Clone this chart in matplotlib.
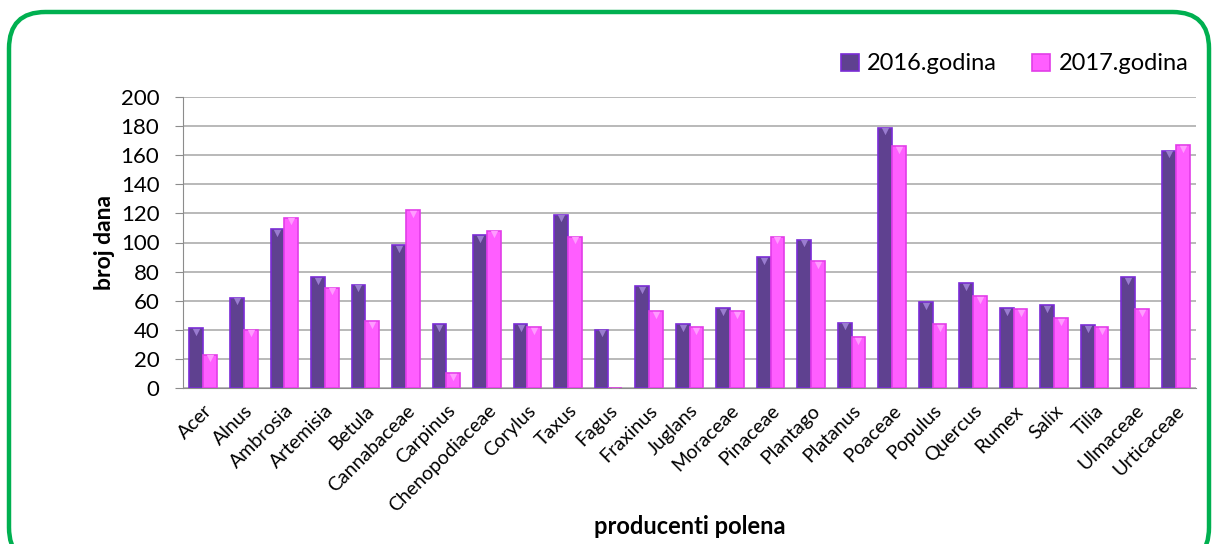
import matplotlib
matplotlib.use("Agg")
import matplotlib.pyplot as plt
import numpy as np
from matplotlib.patches import FancyBboxPatch

categories = ["Acer", "Alnus", "Ambrosia", "Artemisia", "Betula", "Cannabaceae", "Carpinus",
              "Chenopodiaceae", "Corylus", "Taxus", "Fagus", "Fraxinus", "Juglans", "Moraceae",
              "Pinaceae", "Plantago", "Platanus", "Poaceae", "Populus", "Quercus", "Rumex",
              "Salix", "Tilia", "Ulmaceae", "Urticaceae"]
y2016 = [41, 62, 109, 76, 71, 98, 44, 105, 44, 119, 40, 70, 44, 55, 90, 102, 45, 179, 59, 72, 55, 57, 43, 76, 163]
y2017 = [23, 40, 117, 69, 46, 122, 10, 108, 42, 104, 0, 53, 42, 53, 104, 87, 35, 166, 44, 63, 54, 48, 42, 54, 167]
yticks = [0, 20, 40, 60, 80, 100, 120, 140, 160, 180, 200]
series_names = ["2016.godina", "2017.godina"]

plt.rcParams['font.family'] = ['Lato', 'DejaVu Sans']

W, H = 1215, 544
fig = plt.figure(figsize=(W / 100, H / 100), dpi=100)
fig.patch.set_facecolor("white")

# green rounded border
border = FancyBboxPatch((9 / W, -20 / H), (1200 / W), (532 / H + 20 / H),
                        boxstyle="round,pad=0,rounding_size=0.03",
                        transform=fig.transFigure, fill=False,
                        edgecolor="#00B050", linewidth=3.2, mutation_aspect=W / H)
fig.patches.append(border)

ax = fig.add_axes([183 / W, 1 - 388 / H, (1196 - 183) / W, (388 - 97) / H])
x = np.arange(len(categories))
bw = 0.34
c16, e16 = "#5F4190", "#7A2BD6"
c17, e17 = "#FF5EFF", "#E23DE8"
b1 = ax.bar(x - bw / 2, y2016, bw, color=c16, edgecolor=e16, linewidth=1.2, label=series_names[0], zorder=3)
b2 = ax.bar(x + bw / 2, y2017, bw, color=c17, edgecolor=e17, linewidth=1.2, label=series_names[1], zorder=3)
# small top bevel triangles
ax.scatter(x - bw / 2, np.array(y2016) - 2.5, marker="v", s=28, color="#9A7CD0", zorder=4, linewidths=0)
ax.scatter(x + bw / 2, np.array(y2017) - 2.5, marker="v", s=28, color="#FF9CFF", zorder=4, linewidths=0)

ax.set_xlim(-0.5, len(categories) - 0.5)
ax.set_ylim(0, 200)
ax.set_yticks(yticks)
ax.set_yticklabels([str(v) for v in yticks], fontsize=16)
ax.set_xticks(x)
ax.set_xticklabels(categories, rotation=45, ha="right", rotation_mode="anchor", fontsize=14)
ax.tick_params(axis="x", length=0, pad=10)
ax.tick_params(axis="y", length=6, color="#8C8C8C", pad=11, direction="out")
ax.yaxis.grid(True, color="#A6A6A6", linewidth=1.1, zorder=0)
ax.set_axisbelow(True)
for s in ["top", "right"]:
    ax.spines[s].set_visible(False)
ax.spines["left"].set_color("#8C8C8C")
ax.spines["bottom"].set_color("#8C8C8C")

ax.set_ylabel("broj dana", fontsize=16.5, fontweight="bold", labelpad=4)
fig.text(690 / W, 1 - 527 / H, "producenti polena", ha="center", va="center",
         fontsize=17, fontweight="bold")

leg = fig.legend(handles=[b1, b2], labels=series_names, loc="center right",
                 bbox_to_anchor=(1200 / W, 1 - 64 / H), frameon=False, fontsize=17,
                 ncol=2, handlelength=0.75, handleheight=0.75, handletextpad=0.35,
                 columnspacing=1.5, borderpad=0)

fig.savefig("out.png", dpi=100, facecolor="white")
